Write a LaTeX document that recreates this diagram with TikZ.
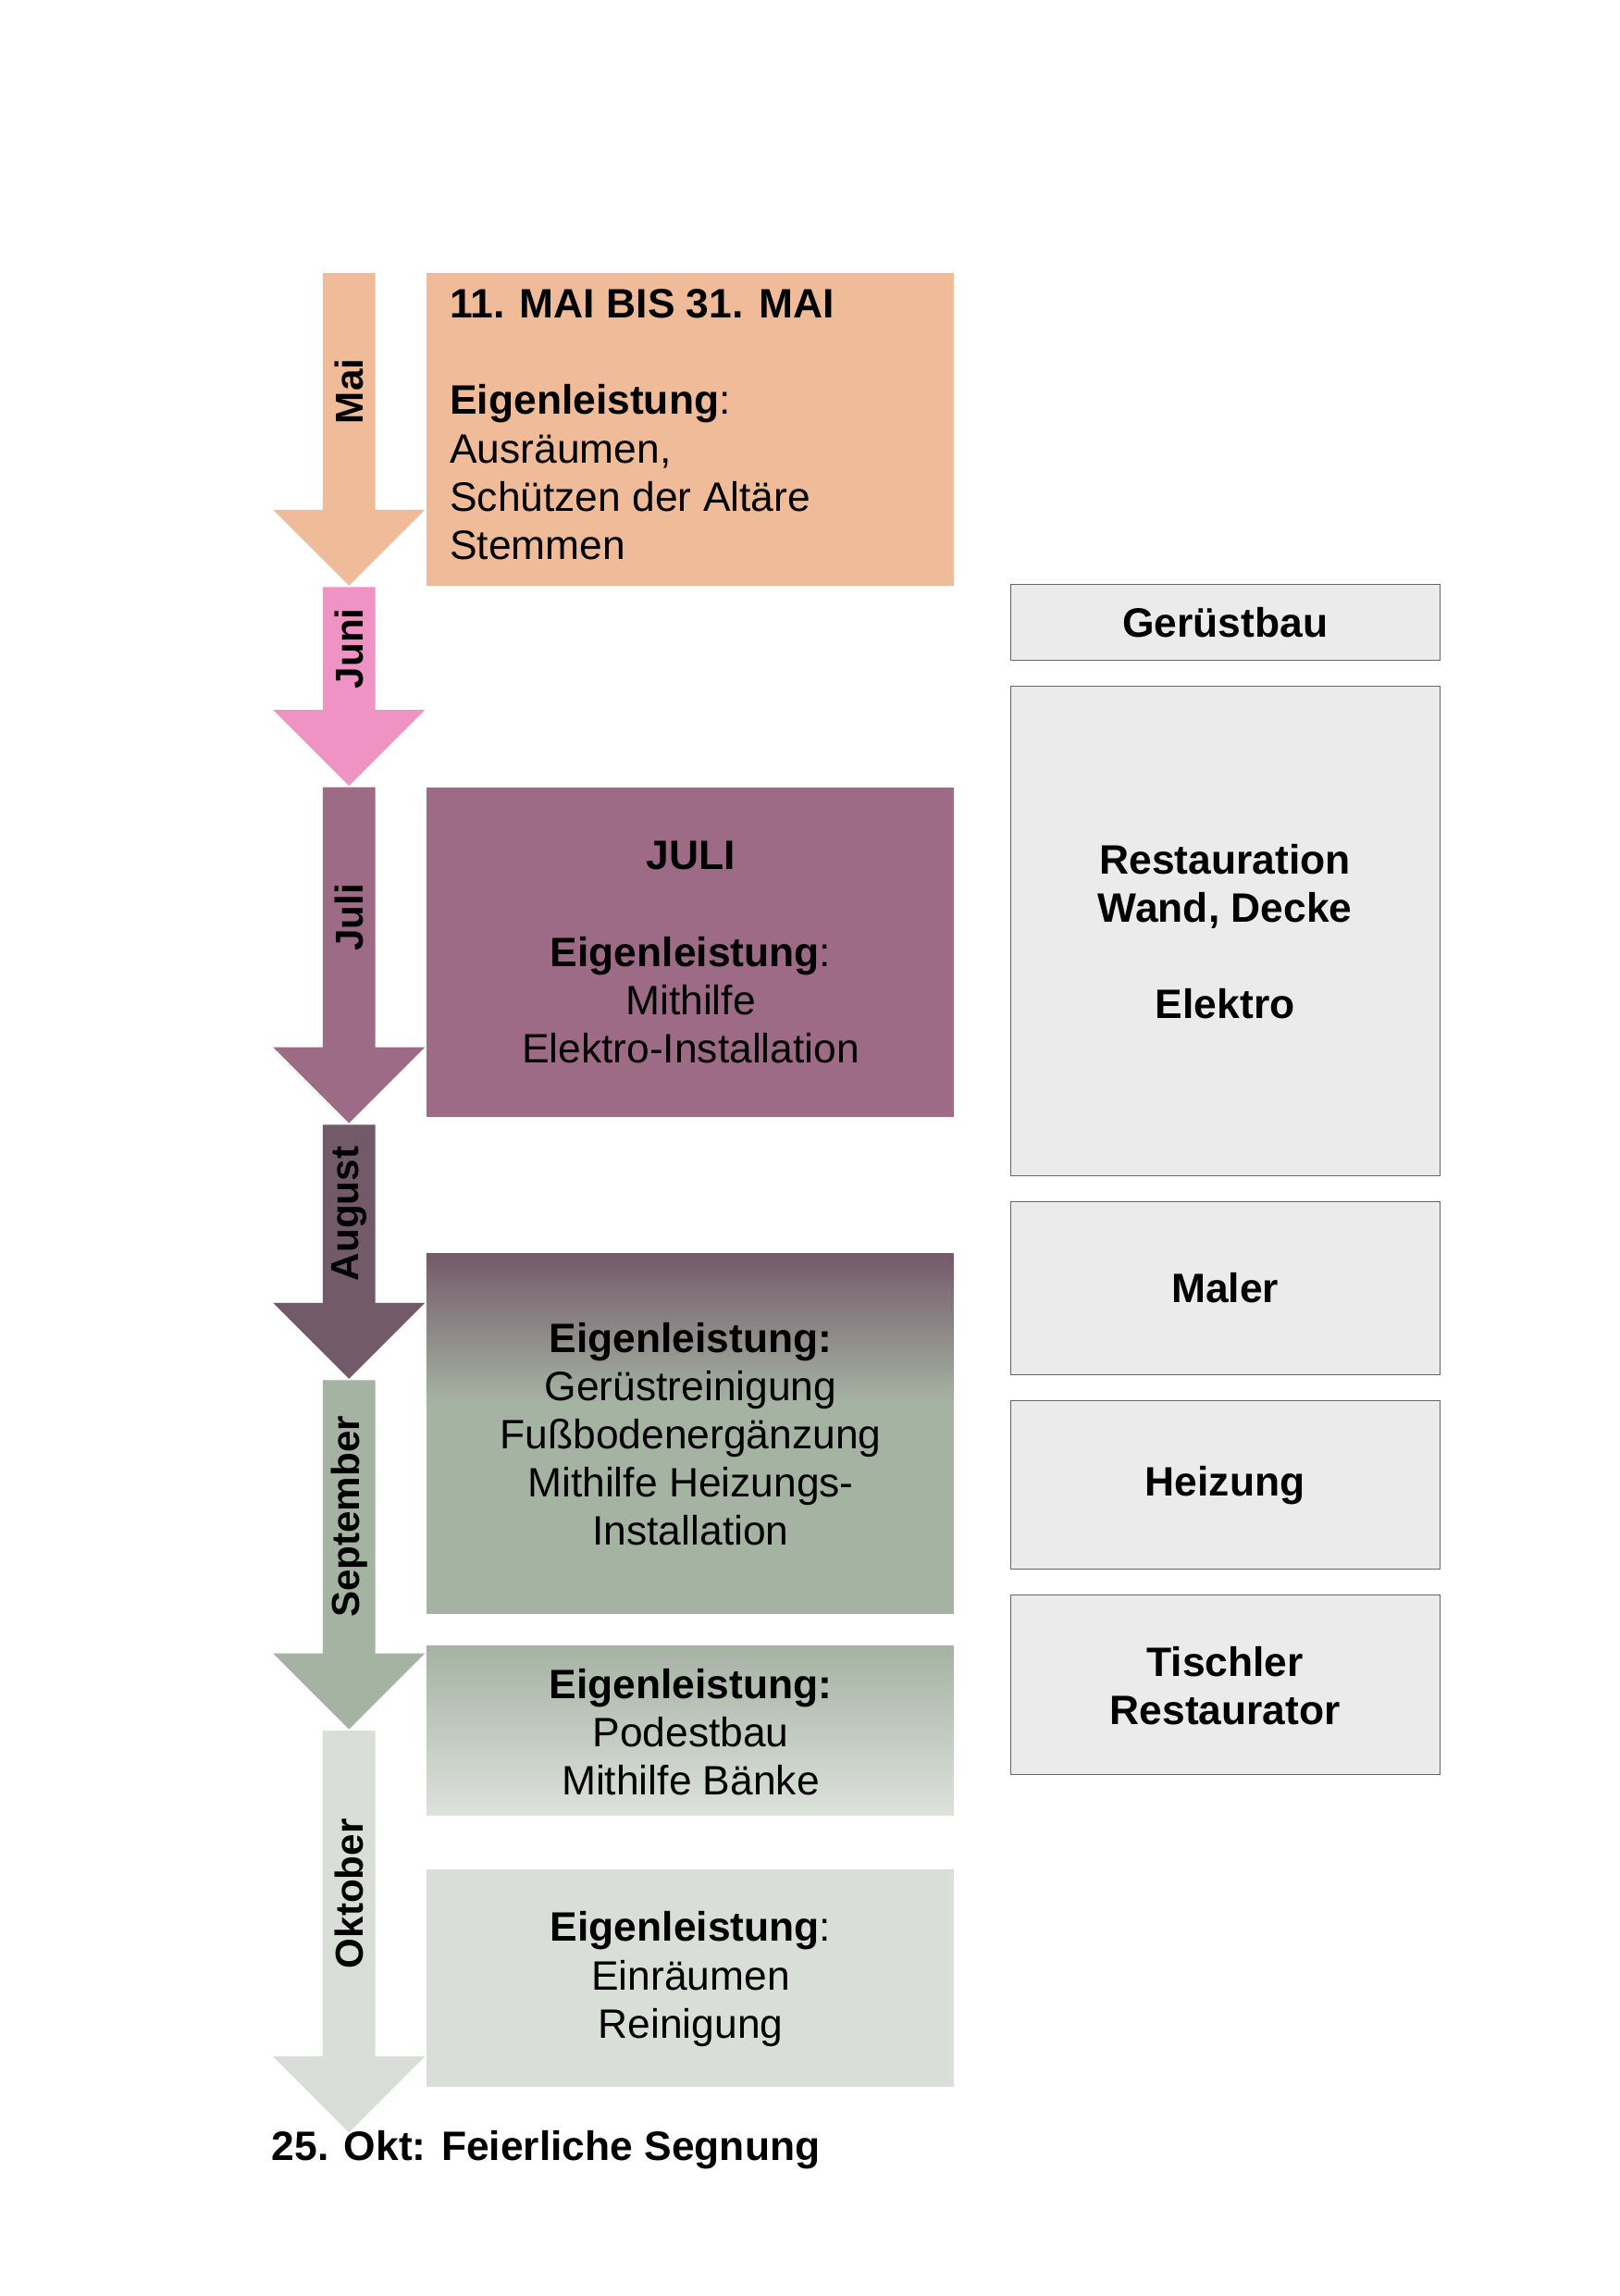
\documentclass[tikz,border=0pt]{standalone}
\usepackage{fontspec}
\setmainfont{Liberation Sans}
\definecolor{cmai}{HTML}{EFBB99}
\definecolor{cjuni}{HTML}{EE93C3}
\definecolor{cjuli}{HTML}{9E6B86}
\definecolor{caug}{HTML}{735A69}
\definecolor{csep}{HTML}{A5B3A3}
\definecolor{cokt}{HTML}{D9DED8}
\definecolor{cgray}{HTML}{EBEBEB}
\newcommand\monarrow[5]{%
  \fill[#4] (221,#1) -- (257,#1) -- (257,#2) -- (291,#2) -- (239,#3) -- (187,#2) -- (221,#2) -- cycle;
  \node[lbl] (#5) at (239,{(#1+#2)/2}) {#5};}
\begin{document}
\begin{tikzpicture}[x=0.05cm,y=-0.05cm,
  txt/.style={font=\fontsize{40}{47}\selectfont, align=center, inner sep=0},
  lbl/.style={font=\fontsize{38}{44}\selectfont\bfseries, rotate=90, inner sep=0},
  rbox/.style={fill=cgray, draw=black!60, line width=0.8pt}]
\useasboundingbox (0,0) rectangle (1109,1572);
\fill[white] (0,0) rectangle (1109,1572);
\monarrow{187}{349}{401}{cmai}{Mai}
\monarrow{402}{486}{538}{cjuni}{Juni}
\monarrow{539}{717}{769}{cjuli}{Juli}
\monarrow{770}{892}{944}{caug}{August}
\monarrow{945}{1132}{1184}{csep}{September}
\monarrow{1185}{1408}{1460}{cokt}{Oktober}
% boxes
\fill[cmai] (292,187) rectangle (653,401);
\node[txt, align=left, anchor=north west] (mai) at (308,198) {\textbf{11. MAI BIS 31. MAI}\\[47pt]\textbf{Eigenleistung}:\\Ausräumen,\\Schützen der Altäre\\Stemmen};
\fill[cjuli] (292,539) rectangle (653,765);
\node[txt] (juli) at (473,652) {\textbf{JULI}\\[47pt]\textbf{Eigenleistung}:\\Mithilfe\\Elektro-Installation};
\shade[top color=caug, bottom color=csep] (292,858) rectangle (653,960);
\fill[csep] (292,959.5) rectangle (653,1105);
\node[txt] (aug) at (473,982) {\textbf{Eigenleistung:}\\Gerüstreinigung\\Fußbodenergänzung\\Mithilfe Heizungs-\\Installation};
\shade[top color=csep, bottom color=cokt!90!white] (292,1127) rectangle (653,1243);
\node[txt] (pod) at (473,1186) {\textbf{Eigenleistung:}\\Podestbau\\Mithilfe Bänke};
\fill[cokt] (292,1280) rectangle (653,1429);
\node[txt] (okt) at (473,1355) {\textbf{Eigenleistung}:\\Einräumen\\Reinigung};
% right
\draw[rbox] (692,400) rectangle (986,452);
\node[txt] (ger) at (839,426) {\textbf{Gerüstbau}};
\draw[rbox] (692,470) rectangle (986,805);
\node[txt, font=\fontsize{40}{47}\selectfont\bfseries] (rest) at (839,638) {Restauration\\Wand, Decke\\[47pt]Elektro};
\draw[rbox] (692,823) rectangle (986,941);
\node[txt] (maler) at (839,882) {\textbf{Maler}};
\draw[rbox] (692,959) rectangle (986,1074);
\node[txt] (heiz) at (839,1017) {\textbf{Heizung}};
\draw[rbox] (692,1092) rectangle (986,1215);
\node[txt, font=\fontsize{40}{47}\selectfont\bfseries] (tisch) at (839,1154) {Tischler\\Restaurator};
\node[txt, anchor=west, font=\fontsize{40}{47}\selectfont\bfseries] (segn) at (186,1472) {25. Okt: Feierliche Segnung};
\end{tikzpicture}
\end{document}
